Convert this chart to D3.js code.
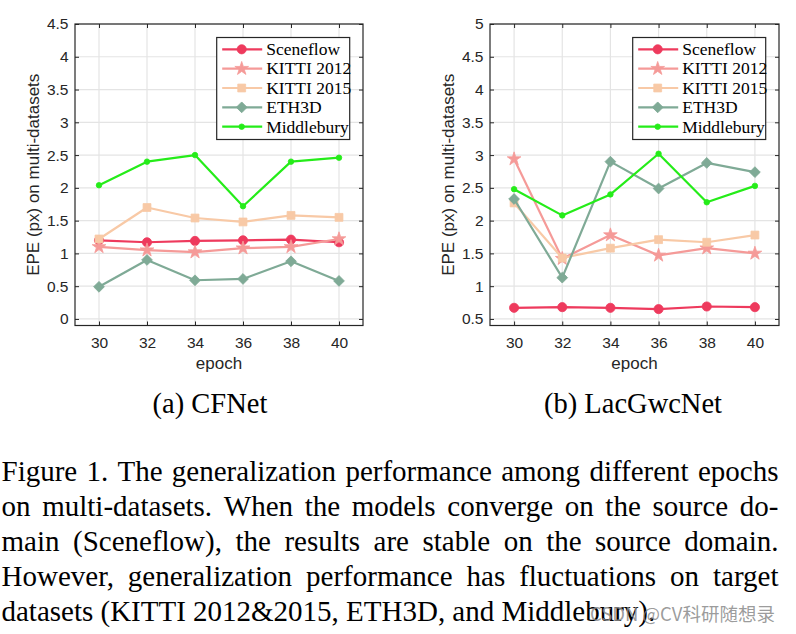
<!DOCTYPE html>
<html>
<head>
<meta charset="utf-8">
<script src="https://cdn.jsdelivr.net/npm/d3@7"></script>
<style>
  html, body { margin: 0; padding: 0; background: #fff; }
  svg { display: block; }
</style>
</head>
<body>
<svg id="fig" width="796" height="634"></svg>
<script>
// ---------------- data ----------------
const epochs = [30, 32, 34, 36, 38, 40];
const seriesNames = ["Sceneflow", "KITTI 2012", "KITTI 2015", "ETH3D", "Middlebury"];

// (a) CFNet
const cfSceneflow  = [1.20, 1.17, 1.19, 1.20, 1.21, 1.17];
const cfKitti2012  = [1.10, 1.05, 1.02, 1.08, 1.10, 1.22];
const cfKitti2015  = [1.22, 1.70, 1.54, 1.48, 1.58, 1.55];
const cfEth3d      = [0.49, 0.90, 0.59, 0.61, 0.88, 0.58];
const cfMiddlebury = [2.04, 2.40, 2.50, 1.72, 2.40, 2.46];

// (b) LacGwcNet
const lacSceneflow  = [0.67, 0.68, 0.67, 0.65, 0.69, 0.68];
const lacKitti2012  = [2.94, 1.42, 1.78, 1.47, 1.58, 1.50];
const lacKitti2015  = [2.27, 1.43, 1.58, 1.71, 1.67, 1.78];
const lacEth3d      = [2.33, 1.13, 2.90, 2.49, 2.88, 2.74];
const lacMiddlebury = [2.48, 2.08, 2.40, 3.02, 2.28, 2.53];

const xTicks = [30, 32, 34, 36, 38, 40];
const cfYTicks  = [0, 0.5, 1, 1.5, 2, 2.5, 3, 3.5, 4, 4.5];
const lacYTicks = [0.5, 1, 1.5, 2, 2.5, 3, 3.5, 4, 4.5, 5];

const subCaptions = ["(a) CFNet", "(b) LacGwcNet"];
const xLabel = "epoch";
const yLabel = "EPE (px) on multi-datasets";
const captionLines = [
  "Figure 1. The generalization performance among different epochs",
  "on multi-datasets.  When the models converge on the source do-",
  "main (Sceneflow), the results are stable on the source domain.",
  "However, generalization performance has fluctuations on target",
  "datasets (KITTI 2012&2015, ETH3D, and Middlebury)."
];
const watermark = "CSDN @CV科研随想录";

// ---------------- styles ----------------
const colors = ["#ee3a5d", "#f59a98", "#f8c9a6", "#7faa96", "#25ec19"];
const markers = ["circle", "star", "square", "diamond", "dot"];
const axisColor = "#262626";
const gridColor = "#e4e4e4";
const sansFont = "'Liberation Sans', Arial, Helvetica, sans-serif";
const serifFont = "'Liberation Serif', 'Times New Roman', serif";

const svg = d3.select("#fig");

function markerPath(kind) {
  const sym = d3.symbol();
  if (kind === "circle") return sym.type(d3.symbolCircle).size(66)();
  if (kind === "star") return sym.type(d3.symbolStar).size(58)();
  if (kind === "square") return sym.type(d3.symbolSquare).size(62)();
  if (kind === "diamond") return sym.type(d3.symbolSquare).size(58)();
  return sym.type(d3.symbolCircle).size(24)();
}

function drawPanel(cfg) {
  const { left, right, top, bottom, yDomain, yTicks, series } = cfg;
  const x = d3.scaleLinear().domain([29, 41]).range([left, right]);
  const y = d3.scaleLinear().domain(yDomain).range([bottom, top]);
  const g = svg.append("g");

  // grid
  g.append("g").selectAll("line").data(xTicks).join("line")
    .attr("x1", d => x(d)).attr("x2", d => x(d))
    .attr("y1", top).attr("y2", bottom)
    .attr("stroke", gridColor).attr("stroke-width", 1.2);
  g.append("g").selectAll("line").data(yTicks).join("line")
    .attr("x1", left).attr("x2", right)
    .attr("y1", d => y(d)).attr("y2", d => y(d))
    .attr("stroke", gridColor).attr("stroke-width", 1.2);

  // axes
  const styleAxis = sel => {
    sel.select(".domain").remove();
    sel.selectAll(".tick line").attr("stroke", axisColor).attr("stroke-width", 1);
    sel.selectAll(".tick text").attr("fill", axisColor)
      .style("font-family", sansFont).style("font-size", "15.5px");
  };
  g.append("g").attr("transform", `translate(0,${bottom})`)
    .call(d3.axisBottom(x).tickValues(xTicks).tickFormat(d => String(d))
      .tickSizeInner(-4).tickSizeOuter(0).tickPadding(11.5))
    .call(styleAxis);
  g.append("g").attr("transform", `translate(${left},0)`)
    .call(d3.axisLeft(y).tickValues(yTicks).tickFormat(d => String(d))
      .tickSizeInner(-4).tickSizeOuter(0).tickPadding(6.5))
    .call(styleAxis);
  g.append("g").attr("transform", `translate(0,${top})`)
    .call(d3.axisTop(x).tickValues(xTicks).tickFormat("")
      .tickSizeInner(-4).tickSizeOuter(0))
    .call(styleAxis);
  g.append("g").attr("transform", `translate(${right},0)`)
    .call(d3.axisRight(y).tickValues(yTicks).tickFormat("")
      .tickSizeInner(-4).tickSizeOuter(0))
    .call(styleAxis);

  // box
  g.append("rect").attr("x", left).attr("y", top)
    .attr("width", right - left).attr("height", bottom - top)
    .attr("fill", "none").attr("stroke", axisColor).attr("stroke-width", 1.2);

  // labels
  g.append("text").attr("x", (left + right) / 2).attr("y", 368.5)
    .attr("text-anchor", "middle").attr("fill", axisColor)
    .style("font-family", sansFont).style("font-size", "17px").text(xLabel);
  g.append("text")
    .attr("transform", `translate(${left - 36.5},${(top + bottom) / 2}) rotate(-90)`)
    .attr("text-anchor", "middle").attr("fill", axisColor)
    .style("font-family", sansFont).style("font-size", "17px").text(yLabel);

  // series
  const line = d3.line().x((d, i) => x(epochs[i])).y(d => y(d));
  series.forEach((vals, si) => {
    const sg = g.append("g");
    sg.append("path").datum(vals).attr("d", line)
      .attr("fill", "none").attr("stroke", colors[si]).attr("stroke-width", 2.2)
      .attr("stroke-linejoin", "round");
    sg.selectAll("path.m").data(vals).join("path")
      .attr("class", "m")
      .attr("d", markerPath(markers[si]))
      .attr("transform", (d, i) => `translate(${x(epochs[i])},${y(d)})` + (markers[si] === "diamond" ? " rotate(45)" : ""))
      .attr("fill", colors[si]).attr("stroke", colors[si]).attr("stroke-width", 0.8);
  });

  // legend
  const lw = 133, lh = 102;
  const lx = right - 13.3 - lw, ly = top + 13.5;
  const lg = g.append("g");
  lg.append("rect").attr("x", lx).attr("y", ly).attr("width", lw).attr("height", lh)
    .attr("fill", "#fff").attr("stroke", axisColor).attr("stroke-width", 1.2);
  seriesNames.forEach((name, si) => {
    const cy = ly + 11.8 + si * 19.35;
    lg.append("line").attr("x1", lx + 5.5).attr("x2", lx + 45.5)
      .attr("y1", cy).attr("y2", cy)
      .attr("stroke", colors[si]).attr("stroke-width", 2.2);
    lg.append("path").attr("d", markerPath(markers[si]))
      .attr("transform", `translate(${lx + 25},${cy})` + (markers[si] === "diamond" ? " rotate(45)" : ""))
      .attr("fill", colors[si]).attr("stroke", colors[si]).attr("stroke-width", 0.8);
    lg.append("text").attr("x", lx + 49.5).attr("y", cy + 5.8)
      .attr("fill", "#000")
      .style("font-family", serifFont).style("font-size", "17.5px").text(name);
  });
}

drawPanel({
  left: 75, right: 363, top: 24, bottom: 325.5,
  yDomain: [-0.1, 4.5], yTicks: cfYTicks,
  series: [cfSceneflow, cfKitti2012, cfKitti2015, cfEth3d, cfMiddlebury]
});
drawPanel({
  left: 490, right: 779, top: 24, bottom: 325.5,
  yDomain: [0.4, 5], yTicks: lacYTicks,
  series: [lacSceneflow, lacKitti2012, lacKitti2015, lacEth3d, lacMiddlebury]
});

// sub captions
[[210, subCaptions[0]], [633, subCaptions[1]]].forEach(([cx, t]) => {
  svg.append("text").attr("x", cx).attr("y", 413).attr("text-anchor", "middle")
    .attr("fill", "#000").style("font-family", serifFont).style("font-size", "28.5px").text(t);
});

// figure caption, justified lines
const capLeft = 1.5, capRight = 778.5;
captionLines.forEach((ln, li) => {
  const baseY = 481 + li * 35;
  const words = ln.split(/\s+/);
  const gl = svg.append("g");
  const nodes = words.map(w => gl.append("text").attr("y", baseY).attr("fill", "#000")
    .style("font-family", serifFont).style("font-size", "29px").text(w));
  const widths = nodes.map(n => n.node().getComputedTextLength());
  const total = d3.sum(widths);
  const justify = li < captionLines.length - 1;
  const gap = justify ? (capRight - capLeft - total) / (words.length - 1) : 7.2;
  let cx = capLeft;
  nodes.forEach((n, i) => { n.attr("x", cx); cx += widths[i] + gap; });
});

// watermark
svg.append("text").attr("x", 590).attr("y", 621).attr("fill", "#8a8a8a").attr("fill-opacity", 0.85)
  .style("font-family", "'Noto Sans CJK SC', 'Noto Sans', sans-serif").style("font-size", "18.5px")
  .text(watermark);
</script>
</body>
</html>
